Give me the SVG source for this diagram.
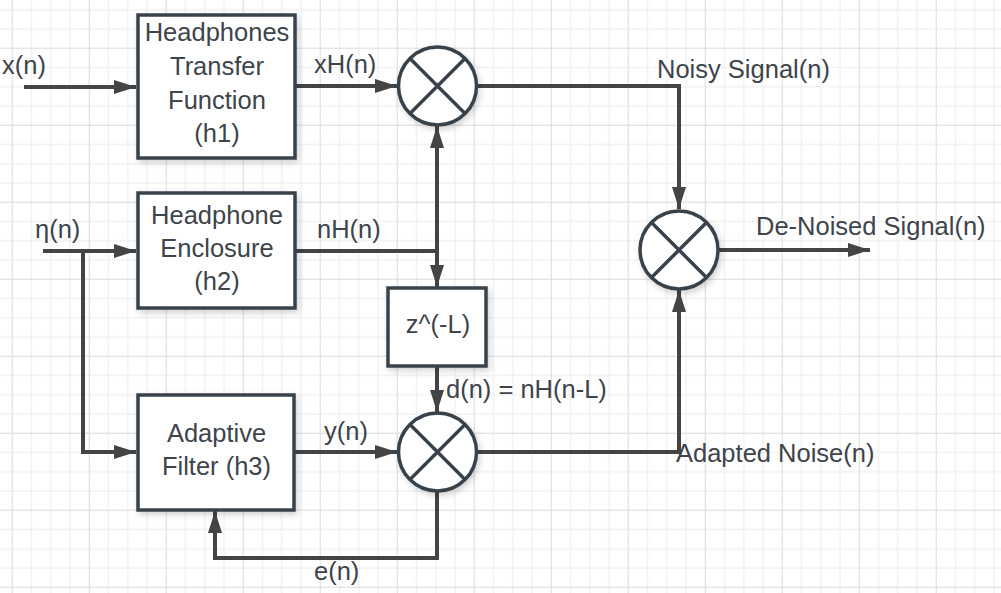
<svg xmlns="http://www.w3.org/2000/svg" width="1001" height="593" viewBox="0 0 1001 593">
<style>
  .bg { fill: #ffffff; }
  .node { fill: #ffffff; stroke: #39424c; stroke-width: 3.5; }
  .x { stroke: #39424c; stroke-width: 3.5; fill: none; }
  .conn { fill: none; stroke: #444444; stroke-width: 4; }
  .t { font-family: "Liberation Sans", Arial, sans-serif; font-size: 25.5px; fill: #3e444b; }
  .c { text-anchor: middle; }
</style>
<defs>
  <pattern id="grid" patternUnits="userSpaceOnUse" x="11.7" y="47.7" width="77" height="77">
    <rect x="0" y="0" width="77" height="77" fill="#ffffff"/>
    <g fill="#ececec">
      <rect x="19.25" y="0" width="1" height="77"/>
      <rect x="38.5" y="0" width="1" height="77"/>
      <rect x="57.75" y="0" width="1" height="77"/>
      <rect x="0" y="19.25" width="77" height="1"/>
      <rect x="0" y="38.5" width="77" height="1"/>
      <rect x="0" y="57.75" width="77" height="1"/>
    </g>
    <g fill="#dadada">
      <rect x="0" y="0" width="1" height="77"/>
      <rect x="0" y="0" width="77" height="1"/>
    </g>
  </pattern>
  <marker id="arr" markerUnits="userSpaceOnUse" markerWidth="22" markerHeight="14" refX="22" refY="7" orient="auto">
    <path d="M0,0 L22,7 L0,14 Z" fill="#444444"/>
  </marker>
  <filter id="sh" x="-20%" y="-20%" width="140%" height="140%">
    <feDropShadow dx="2" dy="3" stdDeviation="3" flood-color="#000000" flood-opacity="0.18"/>
  </filter>
</defs>
<rect width="1001" height="593" fill="url(#grid)"/>

<g id="connectors">
  <path class="conn" d="M24,87 H136" marker-end="url(#arr)"/>
  <path class="conn" d="M295,86 H397" marker-end="url(#arr)"/>
  <path class="conn" d="M477,86 H679 V209" marker-end="url(#arr)"/>
  <path class="conn" d="M43,251 H136" marker-end="url(#arr)"/>
  <path class="conn" d="M83,251 V452 H136" marker-end="url(#arr)"/>
  <path class="conn" d="M295,251 H437"/>
  <path class="conn" d="M437,253 V126" marker-end="url(#arr)"/>
  <path class="conn" d="M437,249 V287" marker-end="url(#arr)"/>
  <path class="conn" d="M437,366 V412" marker-end="url(#arr)"/>
  <path class="conn" d="M294,452 H397" marker-end="url(#arr)"/>
  <path class="conn" d="M477,452 H679 V290" marker-end="url(#arr)"/>
  <path class="conn" d="M437,491 V558 H215 V511" marker-end="url(#arr)"/>
  <path class="conn" d="M718,250 H870" marker-end="url(#arr)"/>
</g>

<g id="h1">
  <rect class="node" x="138" y="15" width="157" height="143" filter="url(#sh)"/>
  <text class="t c" x="217" y="40.5">Headphones</text>
  <text class="t c" x="217" y="75">Transfer</text>
  <text class="t c" x="217" y="109">Function</text>
  <text class="t c" x="217" y="142">(h1)</text>
</g>
<g id="h2">
  <rect class="node" x="138" y="193" width="157" height="115" filter="url(#sh)"/>
  <text class="t c" x="217" y="223.5">Headphone</text>
  <text class="t c" x="217" y="256.5">Enclosure</text>
  <text class="t c" x="217" y="289.5">(h2)</text>
</g>
<g id="h3">
  <rect class="node" x="138" y="395" width="156" height="115" filter="url(#sh)"/>
  <text class="t c" x="216.5" y="441.5">Adaptive</text>
  <text class="t c" x="216.5" y="475">Filter (h3)</text>
</g>
<g id="delay">
  <rect class="node" x="388" y="288" width="98" height="78" filter="url(#sh)"/>
  <text class="t c" x="438" y="333">z^(-L)</text>
</g>
<g id="mix1">
  <circle class="node" cx="437.5" cy="86" r="39" filter="url(#sh)"/>
  <path class="x" d="M410,58.5 L465,113.5 M465,58.5 L410,113.5"/>
</g>
<g id="mix2">
  <circle class="node" cx="679" cy="250" r="39" filter="url(#sh)"/>
  <path class="x" d="M651.5,222.5 L706.5,277.5 M706.5,222.5 L651.5,277.5"/>
</g>
<g id="mix3">
  <circle class="node" cx="437.5" cy="452" r="39" filter="url(#sh)"/>
  <path class="x" d="M410,424.5 L465,479.5 M465,424.5 L410,479.5"/>
</g>

<g id="labels">
  <text class="t" x="2" y="74">x(n)</text>
  <text class="t" x="314" y="73">xH(n)</text>
  <text class="t" x="657" y="78">Noisy Signal(n)</text>
  <text class="t" x="35" y="238">η(n)</text>
  <text class="t" x="317" y="238">nH(n)</text>
  <text class="t" x="756" y="235">De-Noised Signal(n)</text>
  <text class="t" x="446" y="398">d(n) = nH(n-L)</text>
  <text class="t" x="324" y="440">y(n)</text>
  <text class="t" x="676" y="462">Adapted Noise(n)</text>
  <text class="t" x="314" y="580">e(n)</text>
</g>
</svg>
